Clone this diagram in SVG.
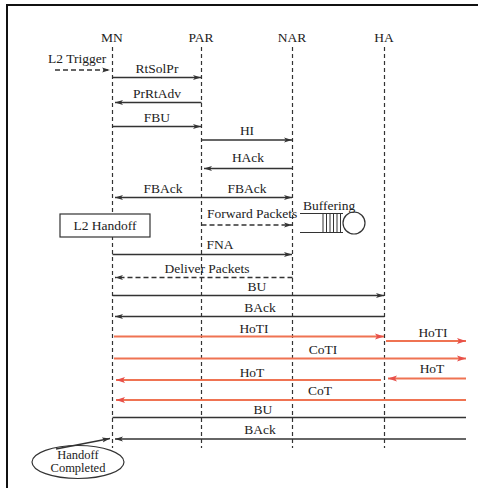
<svg xmlns="http://www.w3.org/2000/svg" width="478" height="488" viewBox="0 0 478 488">
<style>
text{font-family:"Liberation Serif",serif;font-size:13.5px;fill:#222}
.c{text-anchor:middle}
.s{font-size:12.5px}
.life{stroke:#333;stroke-width:1.2;stroke-dasharray:4,3;fill:none}
.m{stroke:#333;stroke-width:1.3;fill:none}
.d{stroke:#333;stroke-width:1.3;fill:none;stroke-dasharray:5,3}
.o{stroke:#EF7352;stroke-width:1.8;fill:none}
</style>
<defs>
<marker id="a" markerWidth="9" markerHeight="6" refX="8" refY="3" orient="auto" markerUnits="userSpaceOnUse"><path d="M0,0.5 L8,3 L0,5.5 L2,3 z" fill="#333"/></marker>
<marker id="r" markerWidth="10" markerHeight="7" refX="9" refY="3.5" orient="auto" markerUnits="userSpaceOnUse"><path d="M0,0.5 L9,3.5 L0,6.5 L2,3.5 z" fill="#E8504A"/></marker>
</defs>
<rect x="0" y="0" width="478" height="488" fill="#fff"/>
<rect x="7" y="5" width="490" height="500" fill="none" stroke="#111" stroke-width="2"/>
<g id="MN"><text class="c" x="112" y="42">MN</text><line class="life" x1="112.5" y1="47" x2="112.5" y2="448"/></g>
<g id="PAR"><text class="c" x="201" y="42">PAR</text><line class="life" x1="201.5" y1="47" x2="201.5" y2="448"/></g>
<g id="NAR"><text class="c" x="292" y="42">NAR</text><line class="life" x1="292.5" y1="47" x2="292.5" y2="448"/></g>
<g id="HA"><text class="c" x="384" y="42">HA</text><line class="life" x1="384.5" y1="47" x2="384.5" y2="448"/></g>
<g id="L2Handoff"><rect x="60" y="214" width="90" height="23" fill="#fff" stroke="#333" stroke-width="1.2"/><text class="c" x="105" y="230">L2 Handoff</text></g>
<g id="Buffering"><text x="303" y="210">Buffering</text>
<path d="M300,213.5 H343 M300,232.5 H343 M323,213.5 V232.5 M326.5,213.5 V232.5 M330,213.5 V232.5 M333.5,213.5 V232.5 M337,213.5 V232.5 M340.5,213.5 V232.5" stroke="#333" stroke-width="1" fill="none"/>
<circle cx="354" cy="223" r="11" fill="none" stroke="#333" stroke-width="1.2"/></g>
<g id="HandoffCompleted"><ellipse cx="78" cy="462" rx="46" ry="16.5" fill="#fff" stroke="#333" stroke-width="1.2"/><text class="c s" x="78" y="459">Handoff</text><text class="c s" x="78" y="472">Completed</text></g>
<g id="connectors">
<path class="d" d="M55,70 H110" marker-end="url(#a)"/>
<path class="m" d="M112.5,77.5 H201" marker-end="url(#a)"/>
<path class="m" d="M201.5,102.5 H115" marker-end="url(#a)"/>
<path class="m" d="M112.5,126.5 H201" marker-end="url(#a)"/>
<path class="m" d="M201.5,140 H292" marker-end="url(#a)"/>
<path class="m" d="M292.5,168.5 H204" marker-end="url(#a)"/>
<path class="m" d="M201.5,197.5 H115" marker-end="url(#a)"/>
<path class="m" d="M201.5,197.5 H292" marker-end="url(#a)"/>
<path class="d" d="M201.5,225 H292" marker-end="url(#a)"/>
<path class="m" d="M112.5,254.5 H292" marker-end="url(#a)"/>
<path class="d" d="M292.5,277.5 H115" marker-end="url(#a)"/>
<path class="m" d="M112.5,295.5 H384" marker-end="url(#a)"/>
<path class="m" d="M384.5,316.5 H115" marker-end="url(#a)"/>
<path class="o" d="M114,336.5 H384" marker-end="url(#r)"/>
<path class="o" d="M386,341 H466" marker-end="url(#r)"/>
<path class="o" d="M114,358.5 H466" marker-end="url(#r)"/>
<path class="o" d="M381,380 H116" marker-end="url(#r)"/>
<path class="o" d="M466,378.5 H388" marker-end="url(#r)"/>
<path class="o" d="M466,400 H116" marker-end="url(#r)"/>
<path class="m" d="M112.5,417.5 H466"/>
<path class="m" d="M466,439 H115" marker-end="url(#a)"/>
<path class="m" d="M56,449 L110,438.5" marker-end="url(#a)"/>
</g>
<g id="labels">
<text x="48" y="63">L2 Trigger</text>
<text class="c" x="157" y="73">RtSolPr</text>
<text class="c" x="157" y="98">PrRtAdv</text>
<text class="c" x="157" y="122">FBU</text>
<text class="c" x="247" y="135">HI</text>
<text class="c" x="248" y="162">HAck</text>
<text class="c" x="163" y="193">FBAck</text>
<text class="c" x="247" y="193">FBAck</text>
<text x="207" y="218">Forward Packets</text>
<text class="c" x="220" y="249">FNA</text>
<text class="c" x="207" y="273">Deliver Packets</text>
<text class="c" x="257" y="291">BU</text>
<text class="c" x="260" y="312">BAck</text>
<text class="c" x="254" y="333">HoTI</text>
<text class="c" x="433" y="337">HoTI</text>
<text class="c" x="323" y="354">CoTI</text>
<text class="c" x="252" y="377">HoT</text>
<text class="c" x="432" y="373">HoT</text>
<text class="c" x="320" y="395">CoT</text>
<text class="c" x="263" y="414">BU</text>
<text class="c" x="260" y="434">BAck</text>
</g>
</svg>
